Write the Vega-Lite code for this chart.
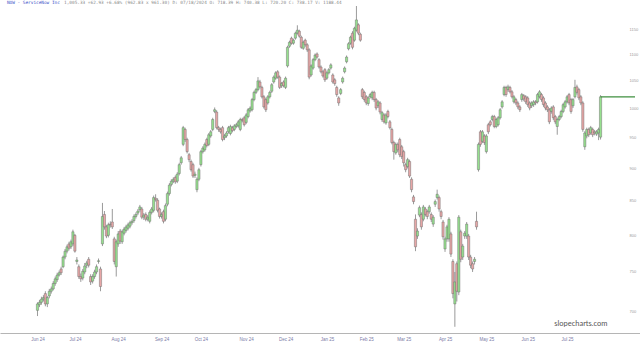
{
"$schema": "https://vega.github.io/schema/vega-lite/v6.json",
"autosize": "none",
"width": 640,
"height": 327,
"padding": {"left": 0, "top": 6, "right": 0, "bottom": 10},
"background": "white",
"config": {"view": {"stroke": null}},
"data": {"values": [
{"i":0,"o":701,"c":709,"h":711,"l":694},{"i":1,"o":708,"c":711,"h":714,"l":705},{"i":2,"o":711,"c":715,"h":718,"l":708},{"i":3,"o":715,"c":717,"h":720,"l":712},{"i":4,"o":722,"c":709,"h":725,"l":706},{"i":5,"o":709,"c":717,"h":719,"l":705},{"i":6,"o":719,"c":725,"h":728,"l":716},{"i":7,"o":725,"c":728,"h":731,"l":722},{"i":8,"o":728,"c":735,"h":738,"l":726},{"i":9,"o":735,"c":741,"h":744,"l":732},
{"i":10,"o":740,"c":746,"h":749,"l":737},{"i":11,"o":746,"c":749,"h":752,"l":744},{"i":12,"o":754,"c":749,"h":757,"l":746},{"i":13,"o":757,"c":770,"h":772,"l":755},{"i":14,"o":770,"c":778,"h":781,"l":767},{"i":15,"o":778,"c":784,"h":787,"l":775},{"i":16,"o":788,"c":782,"h":791,"l":779},{"i":17,"o":784,"c":791,"h":794,"l":781},{"i":18,"o":788,"c":805,"h":808,"l":785},{"i":19,"o":800,"c":778,"h":802,"l":776},
{"i":20,"o":764,"c":766,"h":770,"l":760},{"i":21,"o":757,"c":744,"h":760,"l":741},{"i":22,"o":744,"c":741,"h":748,"l":737},{"i":23,"o":742,"c":751,"h":754,"l":739},{"i":24,"o":750,"c":758,"h":762,"l":747},{"i":25,"o":759,"c":762,"h":765,"l":755},{"i":26,"o":767,"c":759,"h":770,"l":756},{"i":27,"o":744,"c":737,"h":747,"l":733},{"i":28,"o":738,"c":744,"h":747,"l":735},{"i":29,"o":744,"c":750,"h":753,"l":741},
{"i":30,"o":750,"c":757,"h":760,"l":747},{"i":31,"o":764,"c":765,"h":768,"l":761},{"i":32,"o":754,"c":731,"h":757,"l":725},{"i":33,"o":788,"c":827,"h":847,"l":785},{"i":34,"o":830,"c":812,"h":835,"l":808},{"i":35,"o":812,"c":799,"h":815,"l":796},{"i":36,"o":800,"c":815,"h":818,"l":797},{"i":37,"o":816,"c":815,"h":820,"l":811},{"i":38,"o":819,"c":812,"h":838,"l":809},{"i":39,"o":795,"c":764,"h":798,"l":760},
{"i":40,"o":757,"c":791,"h":794,"l":744},{"i":41,"o":788,"c":802,"h":806,"l":784},{"i":42,"o":806,"c":792,"h":809,"l":788},{"i":43,"o":791,"c":805,"h":808,"l":788},{"i":44,"o":803,"c":809,"h":812,"l":800},{"i":45,"o":807,"c":812,"h":815,"l":804},{"i":46,"o":810,"c":815,"h":818,"l":807},{"i":47,"o":813,"c":818,"h":821,"l":810},{"i":48,"o":818,"c":820,"h":823,"l":815},{"i":49,"o":821,"c":827,"h":830,"l":818},
{"i":50,"o":827,"c":830,"h":833,"l":824},{"i":51,"o":832,"c":835,"h":838,"l":829},{"i":52,"o":837,"c":841,"h":844,"l":834},{"i":53,"o":838,"c":826,"h":841,"l":823},{"i":54,"o":826,"c":829,"h":832,"l":822},{"i":55,"o":830,"c":823,"h":833,"l":820},{"i":56,"o":823,"c":826,"h":829,"l":820},{"i":57,"o":820,"c":833,"h":836,"l":817},{"i":58,"o":833,"c":838,"h":841,"l":830},{"i":59,"o":836,"c":855,"h":858,"l":833},
{"i":60,"o":854,"c":852,"h":860,"l":849},{"i":61,"o":851,"c":836,"h":854,"l":833},{"i":62,"o":838,"c":827,"h":840,"l":824},{"i":63,"o":827,"c":830,"h":833,"l":824},{"i":64,"o":834,"c":820,"h":837,"l":817},{"i":65,"o":823,"c":843,"h":846,"l":820},{"i":66,"o":845,"c":861,"h":864,"l":842},{"i":67,"o":861,"c":874,"h":877,"l":858},{"i":68,"o":875,"c":880,"h":883,"l":872},{"i":69,"o":880,"c":883,"h":886,"l":877},
{"i":70,"o":886,"c":879,"h":889,"l":876},{"i":71,"o":880,"c":891,"h":894,"l":877},{"i":72,"o":892,"c":906,"h":909,"l":889},{"i":73,"o":909,"c":917,"h":920,"l":906},{"i":74,"o":939,"c":967,"h":970,"l":936},{"i":75,"o":964,"c":947,"h":967,"l":943},{"i":76,"o":947,"c":927,"h":950,"l":924},{"i":77,"o":922,"c":914,"h":925,"l":910},{"i":78,"o":911,"c":898,"h":914,"l":895},{"i":79,"o":906,"c":888,"h":909,"l":885},
{"i":80,"o":889,"c":891,"h":895,"l":885},{"i":81,"o":867,"c":883,"h":886,"l":863},{"i":82,"o":883,"c":898,"h":901,"l":880},{"i":83,"o":906,"c":927,"h":930,"l":903},{"i":84,"o":927,"c":933,"h":936,"l":924},{"i":85,"o":930,"c":939,"h":942,"l":927},{"i":86,"o":947,"c":937,"h":950,"l":934},{"i":87,"o":939,"c":955,"h":958,"l":936},{"i":88,"o":953,"c":960,"h":963,"l":950},{"i":89,"o":964,"c":981,"h":984,"l":961},
{"i":90,"o":995,"c":998,"h":1002,"l":992},{"i":91,"o":994,"c":967,"h":997,"l":964},{"i":92,"o":967,"c":964,"h":970,"l":960},{"i":93,"o":964,"c":960,"h":967,"l":957},{"i":94,"o":967,"c":947,"h":970,"l":944},{"i":95,"o":950,"c":953,"h":956,"l":946},{"i":96,"o":953,"c":958,"h":961,"l":950},{"i":97,"o":960,"c":967,"h":970,"l":957},{"i":98,"o":957,"c":969,"h":972,"l":954},{"i":99,"o":967,"c":962,"h":970,"l":959},
{"i":100,"o":964,"c":970,"h":973,"l":961},{"i":101,"o":969,"c":972,"h":975,"l":966},{"i":102,"o":970,"c":977,"h":980,"l":967},{"i":103,"o":964,"c":981,"h":984,"l":961},{"i":104,"o":981,"c":979,"h":984,"l":976},{"i":105,"o":984,"c":972,"h":987,"l":969},{"i":106,"o":976,"c":989,"h":992,"l":973},{"i":107,"o":986,"c":998,"h":1001,"l":983},{"i":108,"o":996,"c":1001,"h":1004,"l":993},{"i":109,"o":998,"c":1016,"h":1019,"l":995},
{"i":110,"o":1016,"c":1029,"h":1032,"l":1013},{"i":111,"o":1029,"c":1034,"h":1037,"l":1026},{"i":112,"o":1034,"c":1050,"h":1057,"l":1031},{"i":113,"o":1048,"c":1039,"h":1052,"l":1036},{"i":114,"o":1038,"c":1021,"h":1041,"l":1018},{"i":115,"o":1021,"c":1003,"h":1024,"l":1000},{"i":116,"o":1016,"c":998,"h":1019,"l":994},{"i":117,"o":1010,"c":1021,"h":1024,"l":1007},{"i":118,"o":1021,"c":1029,"h":1032,"l":1018},{"i":119,"o":1031,"c":1043,"h":1046,"l":1028},
{"i":120,"o":1048,"c":1057,"h":1060,"l":1045},{"i":121,"o":1055,"c":1065,"h":1068,"l":1052},{"i":122,"o":1067,"c":1057,"h":1070,"l":1054},{"i":123,"o":1057,"c":1038,"h":1060,"l":1035},{"i":124,"o":1041,"c":1045,"h":1048,"l":1037},{"i":125,"o":1048,"c":1041,"h":1051,"l":1038},{"i":126,"o":1038,"c":1055,"h":1058,"l":1035},{"i":127,"o":1078,"c":1114,"h":1117,"l":1075},{"i":128,"o":1116,"c":1124,"h":1127,"l":1113},{"i":129,"o":1132,"c":1122,"h":1135,"l":1119},
{"i":130,"o":1122,"c":1128,"h":1131,"l":1119},{"i":131,"o":1132,"c":1142,"h":1145,"l":1129},{"i":132,"o":1142,"c":1148,"h":1158,"l":1139},{"i":133,"o":1146,"c":1136,"h":1149,"l":1133},{"i":134,"o":1134,"c":1114,"h":1137,"l":1111},{"i":135,"o":1112,"c":1124,"h":1127,"l":1109},{"i":136,"o":1128,"c":1119,"h":1131,"l":1115},{"i":137,"o":1119,"c":1109,"h":1122,"l":1105},{"i":138,"o":1109,"c":1057,"h":1112,"l":1053},{"i":139,"o":1061,"c":1078,"h":1081,"l":1058},
{"i":140,"o":1074,"c":1090,"h":1093,"l":1071},{"i":141,"o":1090,"c":1099,"h":1102,"l":1087},{"i":142,"o":1101,"c":1095,"h":1104,"l":1092},{"i":143,"o":1090,"c":1076,"h":1093,"l":1073},{"i":144,"o":1076,"c":1067,"h":1079,"l":1064},{"i":145,"o":1067,"c":1059,"h":1070,"l":1056},{"i":146,"o":1071,"c":1052,"h":1074,"l":1048},{"i":147,"o":1055,"c":1065,"h":1068,"l":1052},{"i":148,"o":1065,"c":1071,"h":1074,"l":1062},{"i":149,"o":1074,"c":1080,"h":1083,"l":1071},
{"i":150,"o":1061,"c":1048,"h":1064,"l":1045},{"i":151,"o":1052,"c":1045,"h":1055,"l":1041},{"i":152,"o":1038,"c":1025,"h":1041,"l":1021},{"i":153,"o":1019,"c":1010,"h":1022,"l":1005},{"i":154,"o":1027,"c":1034,"h":1037,"l":1024},{"i":155,"o":1048,"c":1055,"h":1058,"l":1045},{"i":156,"o":1067,"c":1074,"h":1077,"l":1064},{"i":157,"o":1086,"c":1095,"h":1098,"l":1083},{"i":158,"o":1111,"c":1121,"h":1124,"l":1108},{"i":159,"o":1122,"c":1134,"h":1137,"l":1119},
{"i":160,"o":1142,"c":1114,"h":1146,"l":1110},{"i":161,"o":1128,"c":1152,"h":1155,"l":1125},{"i":162,"o":1148,"c":1169,"h":1198,"l":1145},{"i":163,"o":1159,"c":1142,"h":1162,"l":1138},{"i":164,"o":1140,"c":1128,"h":1143,"l":1125},{"i":165,"o":1034,"c":1021,"h":1037,"l":1017},{"i":166,"o":1029,"c":1016,"h":1032,"l":1012},{"i":167,"o":1021,"c":1010,"h":1024,"l":1006},{"i":168,"o":1009,"c":1019,"h":1022,"l":1005},{"i":169,"o":1021,"c":1025,"h":1028,"l":1018},
{"i":170,"o":1019,"c":1029,"h":1032,"l":1015},{"i":171,"o":1029,"c":1016,"h":1032,"l":1012},{"i":172,"o":1016,"c":1001,"h":1019,"l":997},{"i":173,"o":1005,"c":1012,"h":1015,"l":1001},{"i":174,"o":1010,"c":994,"h":1013,"l":990},{"i":175,"o":981,"c":993,"h":996,"l":977},{"i":176,"o":989,"c":977,"h":992,"l":974},{"i":177,"o":975,"c":989,"h":992,"l":972},{"i":178,"o":995,"c":986,"h":998,"l":983},{"i":179,"o":977,"c":967,"h":980,"l":964},
{"i":180,"o":964,"c":942,"h":967,"l":939},{"i":181,"o":942,"c":927,"h":945,"l":914},{"i":182,"o":925,"c":939,"h":942,"l":922},{"i":183,"o":939,"c":930,"h":942,"l":926},{"i":184,"o":947,"c":922,"h":950,"l":918},{"i":185,"o":935,"c":919,"h":938,"l":915},{"i":186,"o":927,"c":909,"h":930,"l":903},{"i":187,"o":906,"c":898,"h":909,"l":894},{"i":188,"o":903,"c":914,"h":917,"l":900},{"i":189,"o":911,"c":888,"h":914,"l":885},
{"i":190,"o":883,"c":867,"h":886,"l":863},{"i":191,"o":856,"c":849,"h":859,"l":845},{"i":192,"o":823,"c":784,"h":830,"l":778},{"i":193,"o":799,"c":806,"h":810,"l":795},{"i":194,"o":829,"c":840,"h":843,"l":826},{"i":195,"o":830,"c":812,"h":833,"l":808},{"i":196,"o":823,"c":841,"h":844,"l":820},{"i":197,"o":838,"c":830,"h":841,"l":827},{"i":198,"o":834,"c":827,"h":837,"l":823},{"i":199,"o":834,"c":841,"h":844,"l":831},
{"i":200,"o":830,"c":823,"h":833,"l":819},{"i":201,"o":816,"c":826,"h":829,"l":812},{"i":202,"o":845,"c":849,"h":852,"l":841},{"i":203,"o":855,"c":860,"h":867,"l":852},{"i":204,"o":855,"c":838,"h":858,"l":834},{"i":205,"o":834,"c":827,"h":837,"l":823},{"i":206,"o":819,"c":798,"h":822,"l":794},{"i":207,"o":781,"c":795,"h":798,"l":777},{"i":208,"o":795,"c":812,"h":815,"l":791},{"i":209,"o":795,"c":823,"h":826,"l":791},
{"i":210,"o":802,"c":774,"h":805,"l":770},{"i":211,"o":764,"c":722,"h":767,"l":716},{"i":212,"o":709,"c":737,"h":750,"l":681},{"i":213,"o":761,"c":725,"h":764,"l":712},{"i":214,"o":724,"c":826,"h":829,"l":720},{"i":215,"o":805,"c":767,"h":808,"l":763},{"i":216,"o":770,"c":785,"h":788,"l":766},{"i":217,"o":799,"c":803,"h":806,"l":795},{"i":218,"o":799,"c":816,"h":819,"l":795},{"i":219,"o":799,"c":770,"h":802,"l":766},
{"i":220,"o":770,"c":759,"h":773,"l":755},{"i":221,"o":761,"c":754,"h":764,"l":750},{"i":222,"o":764,"c":767,"h":770,"l":760},{"i":223,"o":820,"c":812,"h":834,"l":808},{"i":224,"o":898,"c":939,"h":942,"l":895},{"i":225,"o":960,"c":939,"h":963,"l":935},{"i":226,"o":944,"c":960,"h":963,"l":941},{"i":227,"o":953,"c":942,"h":956,"l":938},{"i":228,"o":927,"c":953,"h":956,"l":924},{"i":229,"o":972,"c":960,"h":975,"l":956},
{"i":230,"o":977,"c":972,"h":980,"l":969},{"i":231,"o":981,"c":986,"h":989,"l":978},{"i":232,"o":986,"c":969,"h":989,"l":966},{"i":233,"o":969,"c":981,"h":984,"l":966},{"i":234,"o":972,"c":984,"h":987,"l":969},{"i":235,"o":984,"c":998,"h":1001,"l":981},{"i":236,"o":1003,"c":1012,"h":1015,"l":1000},{"i":237,"o":1025,"c":1038,"h":1041,"l":1022},{"i":238,"o":1038,"c":1025,"h":1041,"l":1021},{"i":239,"o":1034,"c":1039,"h":1043,"l":1030},
{"i":240,"o":1038,"c":1030,"h":1041,"l":1027},{"i":241,"o":1030,"c":1021,"h":1033,"l":1018},{"i":242,"o":1012,"c":1021,"h":1024,"l":1009},{"i":243,"o":1016,"c":1010,"h":1019,"l":1006},{"i":244,"o":1010,"c":1003,"h":1013,"l":999},{"i":245,"o":1003,"c":998,"h":1006,"l":994},{"i":246,"o":1016,"c":1025,"h":1028,"l":1012},{"i":247,"o":1023,"c":1017,"h":1026,"l":1013},{"i":248,"o":1021,"c":1012,"h":1024,"l":1008},{"i":249,"o":1019,"c":1007,"h":1022,"l":1003},
{"i":250,"o":1010,"c":1001,"h":1013,"l":997},{"i":251,"o":1005,"c":1010,"h":1013,"l":1001},{"i":252,"o":1007,"c":1012,"h":1015,"l":1003},{"i":253,"o":1012,"c":1010,"h":1015,"l":1006},{"i":254,"o":1012,"c":1025,"h":1028,"l":1009},{"i":255,"o":1021,"c":1030,"h":1033,"l":1018},{"i":256,"o":1025,"c":1016,"h":1028,"l":1012},{"i":257,"o":1019,"c":1007,"h":1022,"l":1003},{"i":258,"o":1010,"c":1001,"h":1013,"l":997},{"i":259,"o":1003,"c":998,"h":1006,"l":994},
{"i":260,"o":998,"c":977,"h":1001,"l":973},{"i":261,"o":995,"c":1001,"h":1004,"l":991},{"i":262,"o":1003,"c":984,"h":1006,"l":980},{"i":263,"o":986,"c":977,"h":989,"l":973},{"i":264,"o":969,"c":981,"h":984,"l":955},{"i":265,"o":981,"c":986,"h":989,"l":978},{"i":266,"o":986,"c":995,"h":998,"l":983},{"i":267,"o":995,"c":1007,"h":1010,"l":992},{"i":268,"o":1003,"c":1012,"h":1015,"l":1000},{"i":269,"o":1012,"c":1021,"h":1024,"l":1009},
{"i":270,"o":1025,"c":1010,"h":1028,"l":1006},{"i":271,"o":1016,"c":995,"h":1019,"l":991},{"i":272,"o":1005,"c":1016,"h":1019,"l":1001},{"i":273,"o":1021,"c":1038,"h":1052,"l":1018},{"i":274,"o":1039,"c":1029,"h":1043,"l":1025},{"i":275,"o":1034,"c":1019,"h":1037,"l":1015},{"i":276,"o":1021,"c":1010,"h":1024,"l":1006},{"i":277,"o":1010,"c":964,"h":1013,"l":960},{"i":278,"o":935,"c":958,"h":961,"l":930},{"i":279,"o":953,"c":964,"h":967,"l":949},
{"i":280,"o":964,"c":955,"h":967,"l":951},{"i":281,"o":958,"c":967,"h":970,"l":955},{"i":282,"o":964,"c":955,"h":967,"l":951},{"i":283,"o":960,"c":958,"h":963,"l":954},{"i":284,"o":956,"c":960,"h":963,"l":953},{"i":285,"o":958,"c":964,"h":967,"l":946},{"i":286,"o":951,"c":1021,"h":1024,"l":947}
]},
"encoding": {
  "x": {"field": "i", "type": "quantitative", "scale": {"domain": [-16.5, 303.5], "nice": false, "zero": false},
    "axis": {"title": null, "grid": false, "ticks": false, "values": [0,19,41,63,83,106,126,147,167,186,207,228,249,269],
      "labelExpr": "['Jun 24','Jul 24','Aug 24','Sep 24','Oct 24','Nov 24','Dec 24','Jan 25','Feb 25','Mar 25','Apr 25','May 25','Jun 25','Jul 25'][indexof([0,19,41,63,83,106,126,147,167,186,207,228,249,269], datum.value)]",
      "labelFontSize": 4.5, "labelColor": "#7a7aa6", "labelPadding": 3, "labelFlush": false, "labelOverlap": false, "domainColor": "#b5b5b5", "domainWidth": 1}}
},
"layer": [
  {"mark": {"type": "rule", "color": "#6e6e6e", "strokeWidth": 0.7},
   "encoding": {
     "y": {"field": "l", "type": "quantitative", "scale": {"type": "log", "domain": [673.6, 1198], "nice": false, "zero": false},
       "axis": {"title": null, "orient": "right", "offset": -16, "grid": false, "ticks": false, "domain": false, "values": [700,750,800,850,900,950,1000,1050,1100,1150], "format": "d", "labelFontSize": 4, "labelColor": "#9a9a9a", "labelPadding": 5, "labelAlign": "left"}},
     "y2": {"field": "h"}
   }},
  {"mark": {"type": "bar", "width": 2.2, "stroke": "#6a6a6a", "strokeWidth": 0.45},
   "encoding": {
     "y": {"field": "o", "type": "quantitative"},
     "y2": {"field": "c"},
     "color": {"condition": {"test": "datum.c >= datum.o", "value": "#96e08e"}, "value": "#e7a6a6"}
   }},
  {"transform": [{"filter": "datum.i == 286"}],
   "mark": {"type": "rule", "color": "#3f8f3f", "strokeWidth": 1.2},
   "encoding": {"y": {"field": "c", "type": "quantitative"}, "x2": {"datum": 303.5}}},
  {"transform": [{"filter": "datum.i == 286"}],
   "mark": {"type": "text", "text": "NOW - ServiceNow Inc", "fontSize": 4.4, "font": "DejaVu Sans Mono", "color": "#3a50c8", "align": "left", "baseline": "bottom"},
   "encoding": {"x": {"datum": -15.5}, "y": {"datum": 1200}}},
  {"transform": [{"filter": "datum.i == 286"}],
   "mark": {"type": "text", "text": "1,005.33 +62.93 +6.68% (962.83 x 961.30)  D: 07/18/2024  O:   718.39 H:   740.38 L:   720.20 C:   738.17 V:  1188.44", "fontSize": 4.4, "font": "DejaVu Sans Mono", "color": "#8a8a8a", "align": "left", "baseline": "bottom"},
   "encoding": {"x": {"datum": 13.5}, "y": {"datum": 1200}}},
  {"transform": [{"filter": "datum.i == 286"}],
   "mark": {"type": "text", "text": "slopecharts.com", "fontSize": 7.5, "font": "Lato", "color": "#555555", "align": "center", "baseline": "middle"},
   "encoding": {"x": {"datum": 276}, "y": {"datum": 684}}}
]
}
